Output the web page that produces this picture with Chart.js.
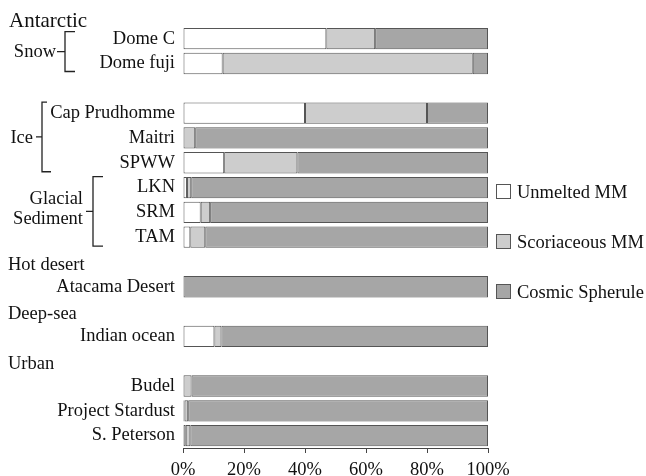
<!DOCTYPE html>
<html>
<head>
<meta charset="utf-8">
<script src="https://cdn.jsdelivr.net/npm/chart.js@4/dist/chart.umd.min.js"></script>
<style>
  html, body { margin: 0; padding: 0; background: #ffffff; }
  #wrap { width: 646px; height: 476px; position: relative; }
</style>
</head>
<body>
<div id="wrap"><canvas id="c" width="646" height="476"></canvas></div>
<script>
// ---- data ----
const categories = ['Antarctic', 'Dome C', 'Dome fuji', '', 'Cap Prudhomme', 'Maitri', 'SPWW', 'LKN', 'SRM', 'TAM',
  'Hot desert', 'Atacama Desert', 'Deep-sea', 'Indian ocean', 'Urban', 'Budel', 'Project Stardust', 'S. Peterson'];
const groupHeaders = ['Antarctic', 'Hot desert', 'Deep-sea', 'Urban'];
const subGroupLabels = [['Snow'], ['Ice'], ['Glacial', 'Sediment']];
const subGroupFirst = ['Dome C', 'Cap Prudhomme', 'LKN'];
const subGroupLast = ['Dome fuji', 'SPWW', 'TAM'];
const seriesNames = ['Unmelted MM', 'Scoriaceous MM', 'Cosmic Spherule'];
const unmelted    = [null, 47, 13, null, 40, 0, 13.5, 1.3, 5.8, 2.4, null, 0, null, 10.3, null, 0, 0.5, 0.9];
const scoriaceous = [null, 16, 82, null, 40, 4, 24, 1.4, 3.1, 4.9, null, 0, null, 2.3, null, 2.8, 1.2, 1.5];
const cosmic      = [null, 37, 5, null, 20, 96, 62.5, 97.3, 91.1, 92.7, null, 100, null, 87.4, null, 97.2, 98.3, 97.6];
const xTicks = [0, 20, 40, 60, 80, 100];

// ---- style ----
const FONT = "'Liberation Serif', 'Times New Roman', serif";
const FS = 18.5;
const fills = ['#ffffff', '#cdcdcd', '#a6a6a6'];
const edge = '#555555';
const ink = '#111111';

const seriesData = [unmelted, scoriaceous, cosmic];
const datasets = seriesNames.map((n, i) => ({
  label: n,
  data: seriesData[i],
  backgroundColor: fills[i],
  borderColor: edge,
  borderWidth: 1,
  borderSkipped: false,
  barPercentage: 0.86,
  categoryPercentage: 1.0
}));

const annotate = {
  id: 'annotate',
  afterDraw(chart) {
    const ctx = chart.ctx;
    const y = chart.scales.y;
    const rowY = name => y.getPixelForValue(categories.indexOf(name));
    ctx.save();
    ctx.fillStyle = ink;
    ctx.textBaseline = 'middle';
    ctx.textAlign = 'left';
    // group headers
    groupHeaders.forEach((h, i) => {
      const first = i === 0;
      ctx.font = (first ? '21px ' : FS + 'px ') + FONT;
      ctx.fillText(h, first ? 9 : 8, rowY(h) + (first ? 8 : 3));
    });
    // brackets
    const geo = [
      { text: 56, dashL: 57, vx: 65, hx: 75, top: -7, bot: 8 },
      { text: 33, dashL: 36, vx: 42, hx: 47, top: -11, bot: 9 },
      { text: 83, dashL: 86, vx: 93, hx: 103, top: -11, bot: 9 }
    ];
    ctx.strokeStyle = '#222222';
    ctx.lineWidth = 1.3;
    subGroupLabels.forEach((lbl, i) => {
      const g = geo[i];
      const t = rowY(subGroupFirst[i]) + g.top;
      const b = rowY(subGroupLast[i]) + g.bot;
      const m = (t + b) / 2;
      ctx.beginPath();
      ctx.moveTo(g.hx, t); ctx.lineTo(g.vx, t); ctx.lineTo(g.vx, b); ctx.lineTo(g.hx + (i === 1 ? 4 : 0), b);
      ctx.moveTo(g.dashL, m); ctx.lineTo(g.vx, m);
      ctx.stroke();
      ctx.font = FS + 'px ' + FONT;
      ctx.textAlign = 'right';
      const lh = 20;
      const start = m - (lbl.length - 1) * lh / 2 - (lbl.length > 1 ? 3 : 0);
      lbl.forEach((s, k) => ctx.fillText(s, g.text, start + k * lh + 1));
    });
    // legend
    const legY = [192, 242, 292];
    ctx.textAlign = 'left';
    ctx.font = FS + 'px ' + FONT;
    seriesNames.forEach((n, i) => {
      ctx.fillStyle = fills[i];
      ctx.fillRect(496.5, legY[i] - 7.5, 14, 14);
      ctx.strokeStyle = edge;
      ctx.lineWidth = 1;
      ctx.strokeRect(496.5, legY[i] - 7.5, 14, 14);
      ctx.fillStyle = ink;
      ctx.fillText(n, 517, legY[i] + 1);
    });
    ctx.restore();
  }
};

new Chart(document.getElementById('c'), {
  type: 'bar',
  data: { labels: categories, datasets },
  options: {
    indexAxis: 'y',
    responsive: false,
    animation: false,
    devicePixelRatio: 1,
    layout: { padding: { top: 1.5, right: 158, left: 0, bottom: 0 } },
    plugins: { legend: { display: false }, tooltip: { enabled: false } },
    scales: {
      x: {
        stacked: true,
        min: 0, max: 100,
        afterBuildTicks: s => { s.ticks = xTicks.map(v => ({ value: v })); },
        afterFit: s => { s.height = 28; s.paddingLeft = 0; s.paddingRight = 0; },
        ticks: {
          callback: v => v + '%',
          font: { family: FONT, size: FS },
          color: ink,
          padding: 6,
          maxRotation: 0
        },
        grid: { display: true, drawOnChartArea: false, drawTicks: true, tickLength: 5, color: '#444444', lineWidth: 1 },
        border: { display: true, color: '#444444', width: 1 }
      },
      y: {
        stacked: true,
        afterFit: s => { s.width = 183; s.paddingTop = 0; s.paddingBottom = 0; },
        ticks: {
          autoSkip: false,
          font: { family: FONT, size: FS },
          color: ink,
          padding: 8,
          callback: function (v, i) {
            const lab = categories[i];
            return groupHeaders.includes(lab) ? '' : lab;
          }
        },
        grid: { display: false, drawTicks: false },
        border: { display: false }
      }
    }
  },
  plugins: [annotate]
});
</script>
</body>
</html>
